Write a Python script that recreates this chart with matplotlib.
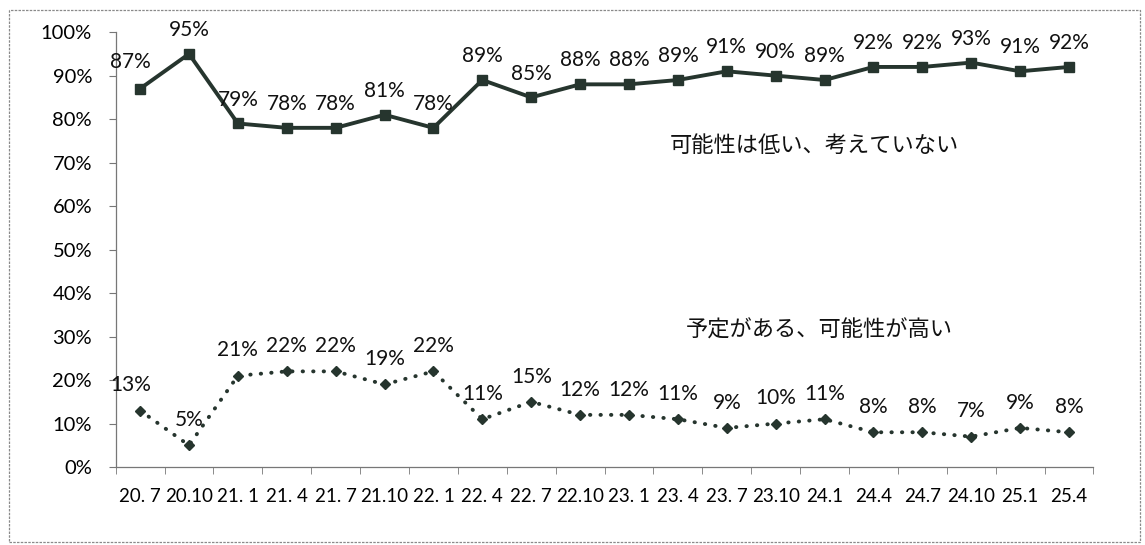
import matplotlib.pyplot as plt
from matplotlib.patches import Rectangle
from matplotlib.ticker import FixedLocator, PercentFormatter

plt.rcParams['font.family'] = ['Lato', 'Noto Sans CJK JP', 'DejaVu Sans']

periods = ['20. 7', '20.10', '21. 1', '21. 4', '21. 7', '21.10', '22. 1', '22. 4', '22. 7', '22.10',
           '23. 1', '23. 4', '23. 7', '23.10', '24.1', '24.4', '24.7', '24.10', '25.1', '25.4']
low = [87, 95, 79, 78, 78, 81, 78, 89, 85, 88, 88, 89, 91, 90, 89, 92, 92, 93, 91, 92]
high = [13, 5, 21, 22, 22, 19, 22, 11, 15, 12, 12, 11, 9, 10, 11, 8, 8, 7, 9, 8]

low_name = '可能性は低い、考えていない'
high_name = '予定がある、可能性が高い'

line_color = '#26352e'

fig = plt.figure(figsize=(11.45, 5.45), dpi=100)
fig.patches.append(Rectangle((0.008, 0.006), 0.988, 0.975, transform=fig.transFigure,
                             fill=False, edgecolor='#8a8a8a', linewidth=0.9, linestyle=(0, (2, 1))))
ax = fig.add_axes([0.101, 0.143, 0.854, 0.798])

x = list(range(len(periods)))
ax.plot(x, low, color=line_color, linewidth=2.8, marker='s', markersize=7.5)
ax.plot(x, high, color=line_color, linewidth=2.8, linestyle=(0, (0.1, 2.6)),
        dash_capstyle='round', marker='D', markersize=5.5)

for i, v in enumerate(low):
    dx = -0.2 if i == 0 else 0
    dy = 12 if i == 0 else 10
    ax.annotate(f'{v}%', (i + dx, v), xytext=(0, dy), textcoords='offset points',
                ha='center', va='bottom', fontsize=15, color='#111111')
for i, v in enumerate(high):
    dx = -0.2 if i == 0 else 0
    ax.annotate(f'{v}%', (i + dx, v), xytext=(0, 11), textcoords='offset points',
                ha='center', va='bottom', fontsize=15, color='#111111')

ax.text(13.8, 74, low_name, fontsize=16, ha='center', va='center', color='#111111')
ax.text(13.9, 31.5, high_name, fontsize=16, ha='center', va='center', color='#111111')

ax.set_xlim(-0.5, len(periods) - 0.5)
ax.set_ylim(0, 100)
ax.set_yticks(range(0, 101, 10))
ax.yaxis.set_major_formatter(PercentFormatter(decimals=0))
ax.set_xticks(x)
ax.set_xticklabels(periods)
ax.xaxis.set_minor_locator(FixedLocator([i - 0.5 for i in range(len(periods) + 1)]))
ax.tick_params(axis='x', which='major', length=0, pad=15, labelsize=13.5)
ax.tick_params(axis='x', which='minor', length=5, color='#777777')
ax.tick_params(axis='y', length=5, color='#777777', labelsize=14.5, pad=12)

for side in ['top', 'right']:
    ax.spines[side].set_visible(False)
for side in ['left', 'bottom']:
    ax.spines[side].set_color('#777777')
    ax.spines[side].set_linewidth(0.9)

fig.savefig('out.png', dpi=100)
